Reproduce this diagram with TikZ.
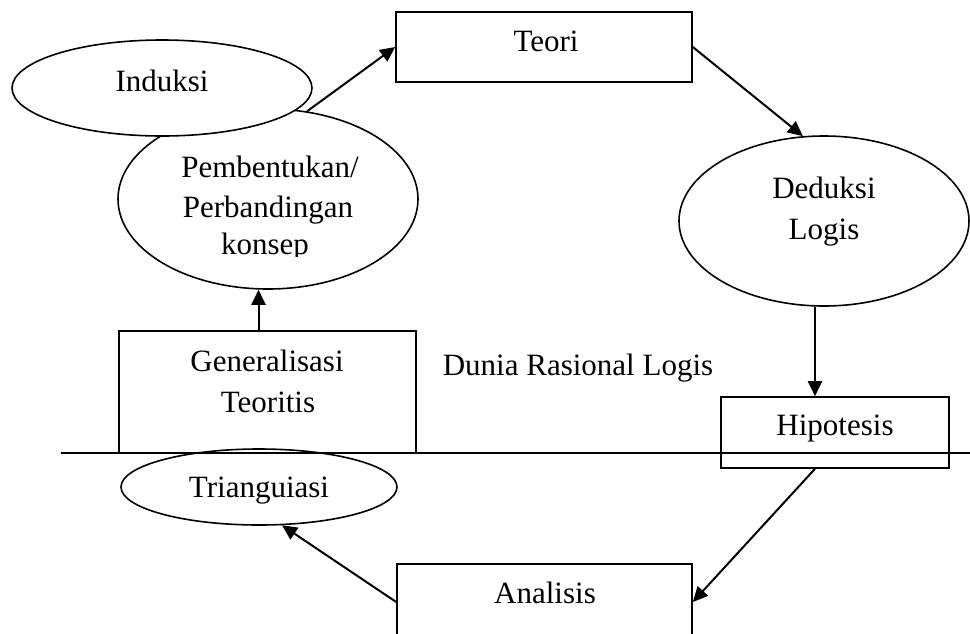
\documentclass[tikz,border=0pt]{standalone}
\usepackage{fontspec}
\setmainfont{Liberation Serif}
\usetikzlibrary{shapes.geometric,arrows.meta,calc}
\begin{document}
\begin{tikzpicture}[x=1pt,y=-1pt,
  txt/.style={font=\fontsize{31}{41}\selectfont,anchor=base,inner sep=0pt},
  outl/.style={draw=black,line width=1.6pt},
  oval/.style={outl,ellipse,inner sep=0pt},
  boxn/.style={outl,rectangle,inner sep=0pt},
  arr/.style={line width=2pt,-{Triangle[length=15pt,width=14pt]}}]
\useasboundingbox (0,0) rectangle (970,633);
\clip (0,0) rectangle (970,633);

% shapes
\node[oval,minimum width=300pt,minimum height=180pt] (pemb) at (268,199) {};
\node[oval,fill=white,minimum width=300pt,minimum height=96pt] (ind) at (162,88) {};
\node[boxn,minimum width=296pt,minimum height=70pt] (teori) at (544,47) {};
\node[oval,minimum width=290pt,minimum height=170pt] (ded) at (824,221) {};
\node[boxn,minimum width=228pt,minimum height=71pt] (hip) at (835,432.5) {};
\node[boxn,minimum width=295pt,minimum height=76pt] (anal) at (544.5,602) {};
\node[boxn,minimum width=297pt,minimum height=122pt] (gen) at (267.5,392) {};
\node[oval,minimum width=276pt,minimum height=76pt] (tri) at (259,487) {};

% dividing line
\coordinate (hl) at (61,453);
\coordinate (hr) at (975,453);
\draw[outl] (hl) -- (hr);

% labels
\node[txt] (tInd) at (162,91) {Induksi};
\node[txt] (tPemb1) at (270,177) {Pembentukan/};
\node[txt] (tPemb2) at (268,217) {Perbandingan};
\begin{scope}
  \clip (100,222) rectangle (440,256);
  \node[txt] (tPemb3) at (265,254) {konsep};
\end{scope}
\node[txt] (tTeori) at (546,51) {Teori};
\node[txt] (tDed1) at (824,198) {Deduksi};
\node[txt] (tDed2) at (824,239) {Logis};
\node[txt] (tDunia) at (578,375) {Dunia Rasional Logis};
\node[txt] (tHip) at (835,435) {Hipotesis};
\node[txt] (tGen1) at (267,371) {Generalisasi};
\node[txt] (tGen2) at (268,412) {Teoritis};
\node[txt] (tTri) at (259,497) {Trianguiasi};
\node[txt] (tAnal) at (545,603) {Analisis};

% connectors
\draw[arr] (pemb.66) -- (teori.west);
\draw[arr] (teori.east) -- (ded.104);
\draw[arr] (ded.264) -- (ded.264 |- hip.north);
\draw[arr] (ded.264 |- hip.south) -- (anal.east);
\draw[arr] (anal.west) -- (tri.301);
\coordinate (gup) at ($(gen.north)+(-9,0)$);
\draw[arr] (gup) -- (gup |- pemb.south);
\end{tikzpicture}
\end{document}
